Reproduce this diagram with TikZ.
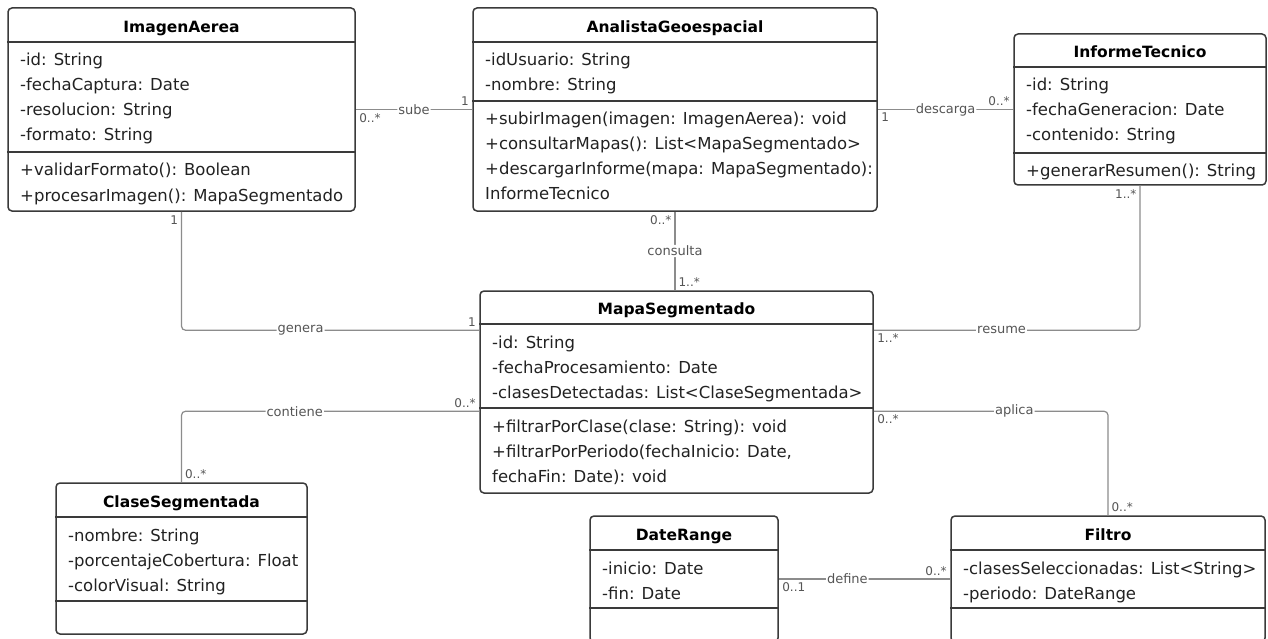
\documentclass[tikz,border=0pt]{standalone}
\usepackage{fontspec}
\setmainfont{DejaVu Sans}
\usetikzlibrary{fit}

\definecolor{boxline}{HTML}{3A3A3A}
\definecolor{relline}{HTML}{8C8C8C}
\definecolor{reltext}{HTML}{555555}
\definecolor{memtext}{HTML}{222222}

% name, left, top, right, bottom, header line, separator, title
\newcommand{\umlclass}[8]{%
  \node[classbox, fit={(#2,#3) (#4,#5)}] (#1) {};
  \draw[classline] (#1.west |- 0,#6) -- (#1.east |- 0,#6);
  \draw[classline] (#1.west |- 0,#7) -- (#1.east |- 0,#7);
  \node[classtitle] (#1-title) at (#1.north |- 0,#6-9.5) {#8};
}

\begin{document}
\begin{tikzpicture}[%
    x=1pt, y=-1pt,
    classbox/.style={draw=boxline, line width=1.5pt, rounded corners=4pt, inner sep=0pt, fill=white},
    classline/.style={draw=boxline, line width=1.5pt},
    classtitle/.style={anchor=base, font=\bfseries\fontsize{15.5}{18}\selectfont, inner sep=0pt},
    members/.style={anchor=base west, align=left, font=\fontsize{16.5}{25}\selectfont, text=memtext, inner sep=0pt},
    assoc/.style={draw=relline, line width=1.2pt, rounded corners=4pt},
    rolename/.style={fill=white, text=reltext, font=\fontsize{13}{15}\selectfont, inner sep=1pt},
    mult/.style={text=reltext, font=\fontsize{12}{14}\selectfont, inner sep=3pt}
  ]
    \fill[white] (0,0) rectangle (1268,639);
    \useasboundingbox (0,0) rectangle (1268,639);
    \clip (0,0) rectangle (1268,639);

    % members nodes sit on the baseline of their last line
    \umlclass{img}{8}{8}{355}{211}{42}{152}{ImagenAerea}
    \node[members] (img-attr) at (20,141) {-id: String\\-fechaCaptura: Date\\-resolucion: String\\-formato: String};
    \node[members] (img-ops) at (20,201) {+validarFormato(): Boolean\\+procesarImagen(): MapaSegmentado};

    \umlclass{ana}{473}{8}{877}{211}{42}{101}{AnalistaGeoespacial}
    \node[members] (ana-attr) at (485,91) {-idUsuario: String\\-nombre: String};
    \node[members] (ana-ops) at (485,200) {+subirImagen(imagen: ImagenAerea): void\\+consultarMapas(): List<MapaSegmentado>\\+descargarInforme(mapa: MapaSegmentado):\\InformeTecnico};

    \umlclass{inf}{1014}{34}{1266}{185}{67}{153}{InformeTecnico}
    \node[members] (inf-attr) at (1026,141) {-id: String\\-fechaGeneracion: Date\\-contenido: String};
    \node[members] (inf-ops) at (1026,177) {+generarResumen(): String};

    \umlclass{map}{480}{291}{873}{493}{324}{408}{MapaSegmentado}
    \node[members] (map-attr) at (492,398) {-id: String\\-fechaProcesamiento: Date\\-clasesDetectadas: List<ClaseSegmentada>};
    \node[members] (map-ops) at (492,482) {+filtrarPorClase(clase: String): void\\+filtrarPorPeriodo(fechaInicio: Date,\\fechaFin: Date): void};

    \umlclass{cla}{56}{483}{307}{634}{517}{601}{ClaseSegmentada}
    \node[members] (cla-attr) at (68,591) {-nombre: String\\-porcentajeCobertura: Float\\-colorVisual: String};

    \umlclass{dat}{590}{516}{778}{642}{550}{608}{DateRange}
    \node[members] (dat-attr) at (602,599) {-inicio: Date\\-fin: Date};

    \umlclass{fil}{951}{516}{1265}{642}{550}{608}{Filtro}
    \node[members] (fil-attr) at (963,599) {-clasesSeleccionadas: List<String>\\-periodo: DateRange};

    % associations
    \draw[assoc] (img.east) -- node[rolename] {sube}
        node[mult, pos=0, below right] {0..*} node[mult, pos=1, above left] {1} (ana.west);
    \draw[assoc] (ana.east) -- node[rolename] {descarga}
        node[mult, pos=0, below right] {1} node[mult, pos=1, above left] {0..*} (inf.west);
    \draw[assoc] (ana.south) -- node[rolename] {consulta}
        node[mult, pos=0, below left] {0..*} node[mult, pos=1, above right] {1..*} (ana.south |- map.north);
    \draw[assoc] (img.south) |- node[rolename, pos=0.7] {genera}
        node[mult, pos=0, below left] {1} node[mult, pos=1, above left] {1} ([yshift=-40pt]map.north west);
    \draw[assoc] (inf.south) |- node[rolename, pos=0.76] {resume}
        node[mult, pos=0, below left] {1..*} node[mult, pos=1, below right] {1..*} ([yshift=-40pt]map.north east);
    \draw[assoc] ([yshift=-121pt]map.north west) -| node[rolename, pos=0.31] {contiene}
        node[mult, pos=0, above left] {0..*} node[mult, pos=1, above right] {0..*} (cla.north);
    \draw[assoc] ([yshift=-121pt]map.north east) -| node[rolename, pos=0.3] {aplica}
        node[mult, pos=0, below right] {0..*} node[mult, pos=1, above right] {0..*} (fil.north);
    \draw[assoc] (dat.east) -- node[rolename, pos=0.4] {define}
        node[mult, pos=0, below right] {0..1} node[mult, pos=1, above left] {0..*} (fil.west);
\end{tikzpicture}
\end{document}
